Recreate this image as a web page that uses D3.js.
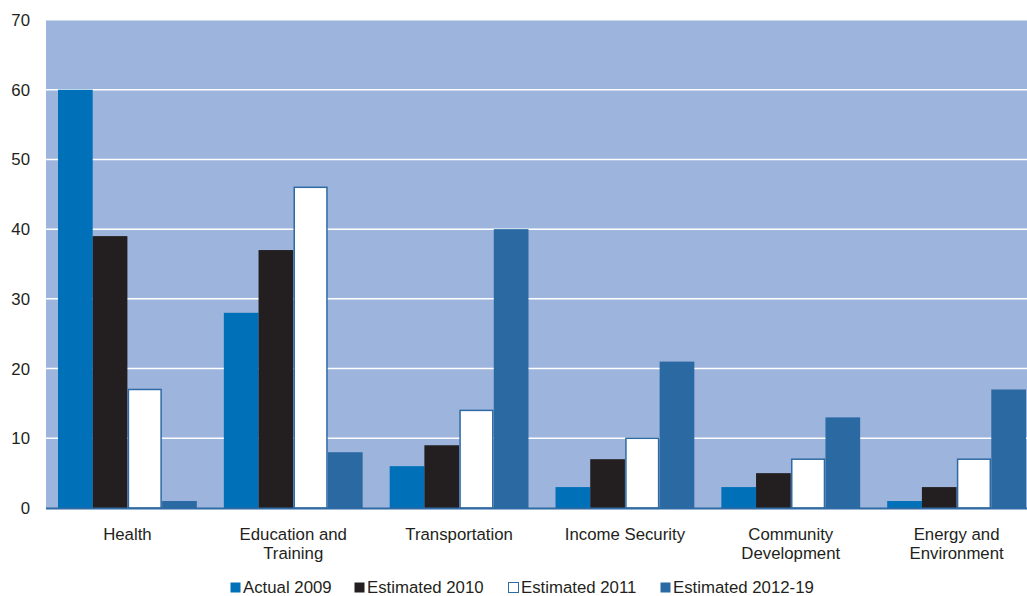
<!DOCTYPE html>
<html>
<head>
<meta charset="utf-8">
<script src="https://cdn.jsdelivr.net/npm/d3@7"></script>
<style>
  body { margin: 0; background: #fff; }
  text { font-family: "Liberation Sans", Arial, sans-serif; fill: #231f20; }
</style>
</head>
<body>
<svg id="chart" width="1027" height="596"></svg>
<script>
var categories = [["Health"], ["Education and", "Training"], ["Transportation"], ["Income Security"], ["Community", "Development"], ["Energy and", "Environment"]];
var seriesNames = ["Actual 2009", "Estimated 2010", "Estimated 2011", "Estimated 2012-19"];
var actual2009 = [60, 28, 6, 3, 3, 1];
var est2010 = [39, 37, 9, 7, 5, 3];
var est2011 = [17, 46, 14, 10, 7, 7];
var est2012 = [1, 8, 40, 21, 13, 17];
var yTicks = [0, 10, 20, 30, 40, 50, 60, 70];

(function() {
  var series = [actual2009, est2010, est2011, est2012];
  var fills = ["#0070b8", "#231f20", "#ffffff", "#2b69a3"];
  var strokes = ["none", "none", "#2e6aa4", "none"];

  var plotLeft = 46, plotRight = 1027, plotTop = 20, plotBottom = 508;
  var fontSize = 16.8;

  var svg = d3.select("#chart");

  // groups run from the first bar at x=58 to the right edge
  var x0 = d3.scaleBand()
    .domain(d3.range(categories.length))
    .range([58, 1026])
    .paddingInner(0.163)
    .paddingOuter(0);

  var x1 = d3.scaleBand()
    .domain(d3.range(series.length))
    .range([0, x0.bandwidth()]);

  var y = d3.scaleLinear().domain([0, 70]).range([plotBottom, plotTop]);

  // background
  svg.append("rect")
    .attr("x", plotLeft).attr("y", plotTop)
    .attr("width", plotRight - plotLeft).attr("height", plotBottom - plotTop)
    .attr("fill", "#9db4dc");

  svg.append("line")
    .attr("x1", plotLeft).attr("x2", plotRight)
    .attr("y1", plotTop + 0.5).attr("y2", plotTop + 0.5)
    .attr("stroke", "#cdd8ec").attr("stroke-width", 1);

  // gridlines
  svg.append("g")
    .selectAll("line")
    .data(yTicks.filter(d => d > 0 && d < 70))
    .enter()
    .append("line")
    .attr("x1", plotLeft).attr("x2", plotRight)
    .attr("y1", d => y(d)).attr("y2", d => y(d))
    .attr("stroke", "#ffffff").attr("stroke-width", 1.5);

  // bars
  var groups = svg.append("g")
    .selectAll("g")
    .data(categories)
    .enter()
    .append("g")
    .attr("transform", (d, i) => "translate(" + x0(i) + ",0)");

  groups.selectAll("rect")
    .data((d, i) => series.map((s, j) => ({ j: j, v: s[i] })))
    .enter()
    .append("rect")
    .attr("x", d => x1(d.j) + (d.j === 2 ? 1 : 0))
    .attr("width", d => x1.bandwidth() - (d.j === 2 ? 2 : 0))
    .attr("y", d => y(d.v))
    .attr("height", d => y(0) - y(d.v))
    .attr("fill", d => fills[d.j])
    .attr("stroke", d => strokes[d.j])
    .attr("stroke-width", 1.5);

  // baseline
  svg.append("line")
    .attr("x1", plotLeft).attr("x2", plotRight)
    .attr("y1", plotBottom + 0.5).attr("y2", plotBottom + 0.5)
    .attr("stroke", "#2e6aa4").attr("stroke-width", 2);

  // y axis labels
  svg.append("g")
    .selectAll("text")
    .data(yTicks)
    .enter()
    .append("text")
    .attr("x", 30)
    .attr("y", d => y(d) + 6)
    .attr("text-anchor", "end")
    .attr("font-size", fontSize)
    .text(d => d);

  // category labels
  var catLabels = svg.append("g")
    .selectAll("text")
    .data(categories)
    .enter()
    .append("text")
    .attr("x", (d, i) => x0(i) + x0.bandwidth() / 2)
    .attr("y", 540)
    .attr("text-anchor", "middle")
    .attr("font-size", fontSize);

  catLabels.selectAll("tspan")
    .data(d => d)
    .enter()
    .append("tspan")
    .attr("x", function() { return d3.select(this.parentNode).attr("x"); })
    .attr("dy", (d, i) => i === 0 ? 0 : 19)
    .text(d => d);

  // legend
  var legendX = [230, 354, 508, 660];
  var legend = svg.append("g")
    .selectAll("g")
    .data(seriesNames)
    .enter()
    .append("g")
    .attr("transform", (d, i) => "translate(" + legendX[i] + ",582)");

  legend.append("rect")
    .attr("x", 0.5).attr("y", 0.5)
    .attr("width", 10).attr("height", 10)
    .attr("fill", (d, i) => fills[i])
    .attr("stroke", (d, i) => i === 2 ? "#2e6aa4" : "none");

  legend.append("text")
    .attr("x", 13)
    .attr("y", 11)
    .attr("font-size", fontSize)
    .text(d => d);
})();
</script>
</body>
</html>
